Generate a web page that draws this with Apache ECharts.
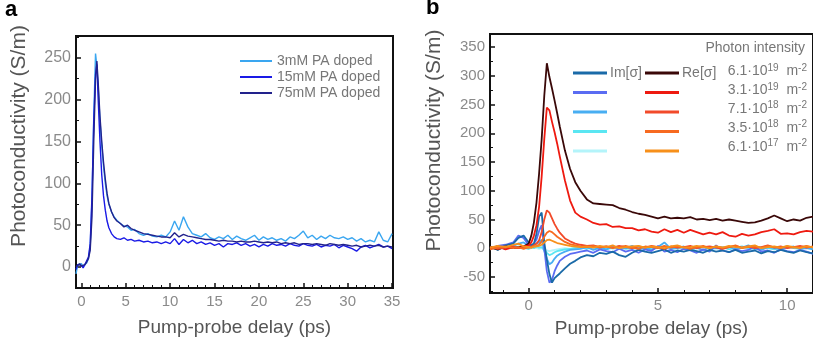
<!DOCTYPE html>
<html><head><meta charset="utf-8">
<script src="https://cdn.jsdelivr.net/npm/echarts@6/dist/echarts.min.js"></script>
<style>html,body{margin:0;padding:0;background:#fff}#c{width:813px;height:346px}</style>
</head><body><div id="c"></div>
<script>
// ---------- Panel a ----------
const delayA = [-0.6,-0.4,-0.2,0,0.2,0.4,0.6,0.8,1.0,1.2,1.4,1.6,1.75,1.9,2.1,2.3,2.5,2.7,2.9,3.1,3.4,3.7,4.0,4.4,4.8,5.2,5.6,6.0,
  6.5,7,7.5,8,8.5,9,9.5,10,10.5,11,11.5,12,12.5,13,13.5,14,14.5,15,15.5,16,16.5,17,17.5,18,18.5,19,19.5,20,20.5,21,21.5,22,22.5,23,23.5,24,24.5,25,25.5,26,26.5,27,27.5,28,28.5,29,29.5,30,30.5,31,31.5,32,32.5,33,33.5,34,34.5,35];
const pa3mM = [-8,3,2,4,1,2,5,10,25,80,180,255,240,215,175,145,120,100,85,75,66,60,56,52,49,48,44,45,
  40,38,40,37,36,38,36,42,55,44,60,48,40,38,36,40,35,33,36,34,38,33,37,34,32,35,38,32,36,33,35,32,34,31,36,34,38,43,35,38,33,37,34,38,35,34,36,33,35,31,34,30,32,30,42,32,30,40];
const pa15mM = [-3,3,5,2,-1,3,5,12,28,85,175,230,242,200,150,110,85,68,55,47,40,36,34,33,35,32,33,31,
  32,30,31,29,30,28,30,28,34,27,33,29,32,28,30,27,29,26,28,24,28,27,29,26,28,25,27,24,27,25,28,26,27,25,28,26,25,28,26,25,27,24,26,25,27,23,26,24,22,19,24,26,23,25,27,24,25,22];
const pa75mM = [0,2,4,1,0,3,6,10,20,60,150,225,246,220,180,150,125,105,88,76,66,59,55,52,48,50,46,44,
  42,40,39,38,37,36,36,35,41,36,39,37,36,35,34,33,33,32,31,32,31,31,30,31,30,30,31,30,29,30,29,30,28,29,28,29,27,28,28,27,28,27,26,28,27,26,27,26,25,26,24,25,26,25,26,24,25,24];
const namesA = ['3mM PA doped','15mM PA doped','75mM PA doped'];

// ---------- Panel b ----------
const delayB = [-1.5,-1.2,-0.9,-0.6,-0.4,-0.2,0,0.1,0.2,0.3,0.4,0.5,0.6,0.7,0.8,0.9,1.0,1.1,1.2,1.4,1.6,1.8,2.0,
  2.25,2.5,2.75,3.0,3.25,3.5,3.75,4.0,4.25,4.5,4.75,5.0,5.25,5.5,5.75,6.0,6.25,6.5,6.75,7.0,7.25,7.5,7.75,8.0,8.25,8.5,8.75,9.0,9.25,9.5,9.75,10.0,10.25,10.5,10.75,11.0];
const re1 = [2,-2,3,0,2,3,8,22,45,80,130,190,265,322,298,278,257,235,212,170,138,115,100,
  85,78,77,76,75,70,67,63,60,58,55,52,55,52,53,52,54,50,51,49,51,48,50,48,46,44,45,48,52,57,52,47,50,48,53,55];
const re2 = [0,3,-2,2,0,3,5,10,22,40,72,125,190,245,240,220,202,182,160,118,83,62,55,
  50,44,41,42,37,38,35,35,31,33,29,27,33,28,32,27,32,28,24,27,24,28,22,20,25,22,24,28,30,33,25,26,24,28,30,29];
const re3 = [2,-1,1,3,0,2,1,3,5,8,14,28,50,66,62,52,42,34,27,17,12,8,6,
  4,5,2,3,1,4,2,0,3,1,4,2,-1,3,1,2,4,0,2,3,1,-1,2,4,1,3,0,2,5,1,3,0,2,4,1,3];
const re4 = [-2,1,3,0,2,-1,2,1,3,4,6,12,20,27,30,28,24,20,17,11,7,5,3,
  2,4,1,3,0,2,4,1,-1,3,2,0,4,1,3,2,-1,2,4,0,3,1,2,5,0,2,3,1,4,2,0,3,1,2,4,1];
const re5 = [1,4,2,6,8,3,2,1,3,3,4,6,10,14,15,13,11,9,8,6,4,3,2,
  3,1,4,2,5,0,2,3,4,1,3,2,0,3,5,1,2,4,2,0,3,1,4,2,1,3,5,0,2,3,1,4,2,0,3,2];
const im1 = [3,-3,5,8,18,22,10,5,8,25,55,62,10,-20,-45,-60,-52,-48,-44,-35,-27,-22,-16,
  -12,-14,-8,-10,-6,-12,-15,-8,-3,-6,-8,-5,-2,-8,-4,-6,-3,-5,-8,-3,-6,-4,-7,-3,-8,-6,-4,-9,-5,-7,-3,-6,-8,-4,-7,-9];
const im2 = [-2,4,6,10,22,18,5,3,8,15,30,40,0,-40,-60,-55,-40,-30,-22,-15,-10,-8,-6,
  -4,-8,-2,-5,-7,-1,-6,-3,-8,-2,-5,4,-6,-3,-7,-1,-4,-8,-2,-6,5,-4,-7,-2,-5,-3,3,-6,-4,-8,-2,-5,-7,-3,-6,-10];
const im3 = [0,3,-1,4,8,10,4,2,5,8,10,15,-5,-18,-28,-25,-18,-13,-10,-6,-3,-2,-1,
  2,-3,1,-2,3,-1,0,4,-2,1,-3,2,10,-1,0,3,-2,1,-4,2,0,-1,3,-2,1,5,-1,-3,2,0,-2,1,3,-1,0,-2];
const im4 = [1,-2,2,0,3,1,-1,2,0,3,1,2,-3,-8,-12,-10,-7,-5,-4,-2,-1,0,1,
  -1,2,0,-2,1,3,-1,0,2,-2,1,0,3,-1,2,0,-3,1,2,-1,0,2,-2,1,3,0,-1,2,0,-2,1,3,0,-1,2,0];
const im5 = [0,1,-1,2,0,1,-1,0,1,0,-1,0,-3,-4,-5,-4,-3,-2,-1,0,-1,1,0,
  1,-1,0,2,-1,0,1,-2,0,1,-1,0,2,0,-1,1,0,-1,2,0,-1,1,0,-2,1,0,-1,1,0,2,-1,0,1,-1,0,1];
const intensityBase = ['6.1','3.1','7.1','3.5','6.1'];
const intensityExp = ['19','19','18','18','17'];
const imNames = intensityBase.map((b,i)=>'Im '+b+'e'+intensityExp[i]);
const reNames = intensityBase.map((b,i)=>'Re '+b+'e'+intensityExp[i]);
const imData = [im1,im2,im3,im4,im5];
const reData = [re1,re2,re3,re4,re5];

const colorsA = ['#3aa6f0','#1a1ae6','#22228c'];
const imColors = ['#1a6aa8','#5a6cf2','#48aef2','#5ae6f2','#b4f4fa'];
const reColors = ['#3a0808','#ee1a10','#f24a2a','#f76a20','#f7901a'];

const FONT = 'Liberation Sans, Arial, sans-serif';
const chart = echarts.init(document.getElementById('c'), null, {renderer:'canvas'});

function xyPairs(xs, ys){ return xs.map((x,i)=>[x, ys[i]]); }

function axisCommon(labelSize){
  return {
    type:'value',
    axisLine:{show:true, onZero:false, lineStyle:{color:'#111', width:2}},
    axisTick:{show:true, inside:true, length:5, lineStyle:{color:'#111', width:1.5}},
    minorTick:{show:true, length:3, lineStyle:{color:'#111', width:1}},
    splitLine:{show:false},
    axisLabel:{color:'#8a8a8a', fontSize:labelSize, fontFamily:FONT, showMinLabel:false, showMaxLabel:false},
    nameLocation:'middle',
    nameTextStyle:{color:'#555', fontFamily:FONT}
  };
}

const xA = Object.assign(axisCommon(15), {gridIndex:0, min:-0.6, max:35.1, splitNumber:7,
  name:'Pump-probe delay (ps)', nameGap:30});
xA.minorTick.splitNumber = 5; xA.axisLabel.margin = 6; xA.nameTextStyle.fontSize = 19;
const yA = Object.assign(axisCommon(16), {gridIndex:0, min:-25, max:276, splitNumber:6,
  name:'Photoconductivity (S/m)', nameGap:46});
yA.minorTick.splitNumber = 2; yA.axisLabel.margin = 5; yA.nameTextStyle.fontSize = 21;
yA.nameTextStyle.padding = [0, 0, 0, 52];

const xB = Object.assign(axisCommon(15), {gridIndex:1, min:-1.5, max:11, splitNumber:3,
  name:'Pump-probe delay (ps)', nameGap:26});
xB.minorTick.splitNumber = 5; xB.axisLabel.margin = 5; xB.nameTextStyle.fontSize = 19;
const yB = Object.assign(axisCommon(15), {gridIndex:1, min:-78, max:373, splitNumber:9,
  name:'Photoconductivity (S/m)', nameGap:45});
yB.minorTick.splitNumber = 2; yB.axisLabel.margin = 5; yB.nameTextStyle.fontSize = 21;
yB.nameTextStyle.padding = [0, 0, 0, 46];

const series = [];
namesA.forEach((n,i)=>{
  const ys = [pa3mM, pa15mM, pa75mM][i];
  series.push({name:n, type:'line', xAxisIndex:0, yAxisIndex:0, data:xyPairs(delayA, ys),
    showSymbol:false, lineStyle:{width:1.4, color:colorsA[i]}, itemStyle:{color:colorsA[i]}, z:2+i});
});
for (let i=4;i>=0;i--){
  series.push({name:imNames[i], type:'line', xAxisIndex:1, yAxisIndex:1, data:xyPairs(delayB, imData[i]),
    showSymbol:false, lineStyle:{width:1.8, color:imColors[i]}, itemStyle:{color:imColors[i]}, z:2});
}
for (let i=0;i<5;i++){
  series.push({name:reNames[i], type:'line', xAxisIndex:1, yAxisIndex:1, data:xyPairs(delayB, reData[i]),
    showSymbol:false, lineStyle:{width:1.8, color:reColors[i]}, itemStyle:{color:reColors[i]}, z:3});
}

const graphics = [
  {type:'text', left:5, top:-1, style:{text:'a', fontSize:22, fontWeight:'bold', fontFamily:FONT, fill:'#000'}},
  {type:'text', left:426, top:-3, style:{text:'b', fontSize:22, fontWeight:'bold', fontFamily:FONT, fill:'#000'}},
  {type:'text', right:8, top:41, style:{text:'Photon intensity', fontSize:14, fontFamily:FONT, fill:'#777'}}
];
intensityBase.forEach((b,i)=>{
  graphics.push({type:'text', right:6, top:63 + i*18.8, style:{
    text: b + '·10{s|' + intensityExp[i] + '}  m{s|-2}', fontSize:14, fontFamily:FONT, fill:'#777', lineHeight:17,
    rich:{s:{fontSize:10, fontFamily:FONT, fill:'#777', lineHeight:10, verticalAlign:'top'}}
  }});
});

chart.setOption({
  backgroundColor:'#fff',
  animation:false,
  grid:[
    {left:76, right:420, top:36, bottom:58, show:true, borderColor:'#111', borderWidth:2, backgroundColor:'transparent'},
    {left:490, right:-2, top:34, bottom:53, show:true, borderColor:'#111', borderWidth:2, backgroundColor:'transparent'}
  ],
  xAxis:[xA, xB],
  yAxis:[yA, yB],
  legend:[
    {data:namesA, orient:'vertical', left:240, top:54, padding:0, itemWidth:32, itemHeight:2, itemGap:2, icon:'rect',
      textStyle:{color:'#777', fontSize:14, fontFamily:FONT}},
    {data:imNames, orient:'vertical', left:573, top:66, padding:0, itemWidth:34, itemHeight:3, itemGap:5.5, icon:'rect',
      formatter:(n)=> n===imNames[0] ? 'Im[σ]' : ' ',
      textStyle:{color:'#777', fontSize:14, fontFamily:FONT, padding:[0,0,0,-2]}},
    {data:reNames, orient:'vertical', left:645, top:66, padding:0, itemWidth:34, itemHeight:3, itemGap:5.5, icon:'rect',
      formatter:(n)=> n===reNames[0] ? 'Re[σ]' : ' ',
      textStyle:{color:'#777', fontSize:14, fontFamily:FONT, padding:[0,0,0,-2]}}
  ],
  graphic:graphics,
  series:series
});
</script></body></html>
